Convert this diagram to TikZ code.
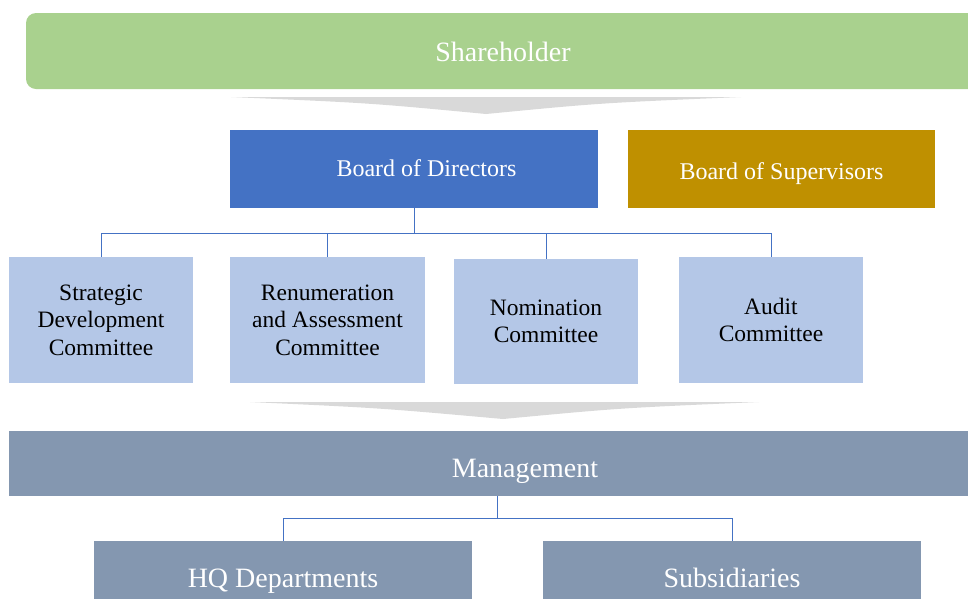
\documentclass[tikz,border=0pt]{standalone}
\usepackage{fontspec}
\setmainfont{Liberation Serif}
\definecolor{shgreen}{HTML}{A9D18E}
\definecolor{bodblue}{HTML}{4472C4}
\definecolor{supgold}{HTML}{BF9000}
\definecolor{comblue}{HTML}{B4C7E7}
\definecolor{mgtgrey}{HTML}{8497B0}
\definecolor{arrgrey}{HTML}{D9D9D9}
\tikzset{every picture/.style={line width=0.75pt}}
\tikzset{
  box/.style={rectangle, inner sep=0pt, align=center},
  txtbase/.style={text height=#1, text depth=0pt},
  bigbox/.style={box, text=white, font=\fontsize{28}{32}\selectfont},
  midbox/.style={box, text=white, font=\fontsize{24}{28}\selectfont},
  combox/.style={box, fill=comblue, text=black, minimum width=184, minimum height=126,
    font=\fontsize{23.5}{27.5}\selectfont},
  conn/.style={draw=bodblue, line width=1pt}
}

\begin{document}
\begin{tikzpicture}[x=1pt,y=-1pt]
\useasboundingbox (0,0) rectangle (968,598);
\clip (0,0) rectangle (968,598);
% top level
\node [bigbox, txtbase=20pt, fill=shgreen, rounded corners=10pt, minimum width=954, minimum height=76] (share) at (503,51) {Shareholder};
\fill [arrgrey] (231,97) -- (741,97) .. controls (600,103) .. (486,114) .. controls (370,103) .. (231,97) -- cycle;
% boards
\node [midbox, txtbase=14pt, fill=bodblue, minimum width=368, minimum height=78] (bod) at (414,169) {\hspace*{25pt}Board of Directors};
\node [midbox, txtbase=20pt, fill=supgold, minimum width=307, minimum height=78] (bos) at (781.5,169) {Board of Supervisors};
% committees
\node [combox] (strat) at (101,320) {Strategic\\Development\\Committee};
\node [combox, minimum width=195] (renum) at (327.5,320) {Renumeration\\and Assessment\\Committee};
\node [combox, minimum height=125] (nomin) at (546,321.5) {Nomination\\Committee};
\node [combox] (audit) at (771,320) {Audit\\Committee};
\draw [conn] (bod.south) -- ++(0,25) -| (strat.north);
\draw [conn] (bod.south) -- ++(0,25) -| (renum.north);
\draw [conn] (bod.south) -- ++(0,25) -| (nomin.north);
\draw [conn] (bod.south) -- ++(0,25) -| (audit.north);
\fill [arrgrey] (250,402) -- (759,402) .. controls (620,408) .. (503,419) .. controls (380,408) .. (250,402) -- cycle;
% management
\node [bigbox, txtbase=27pt, fill=mgtgrey, minimum width=959, minimum height=65] (mgmt) at (488.5,463.5) {\hspace*{73pt}Management};
\coordinate (mtap) at (497,496);
\node [bigbox, txtbase=22pt, fill=mgtgrey, minimum width=378, minimum height=70] (hq) at (283,576) {HQ Departments};
\node [bigbox, txtbase=22pt, fill=mgtgrey, minimum width=378, minimum height=70] (subs) at (732,576) {Subsidiaries};
\draw [conn] (mtap) -- ++(0,22) -| (hq.north);
\draw [conn] (mtap) -- ++(0,22) -| (subs.north);
\end{tikzpicture}
\end{document}
